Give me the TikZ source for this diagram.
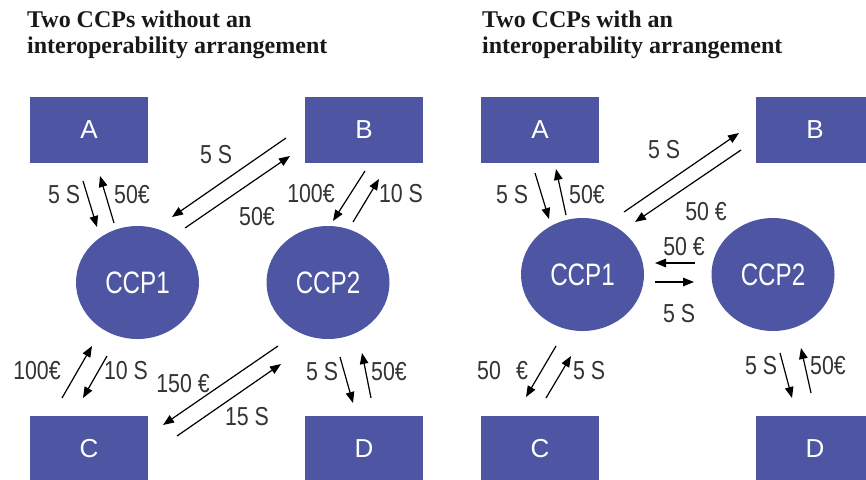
\documentclass[tikz,border=0pt]{standalone}
\usepackage{fontspec}
\setmainfont{Liberation Serif}
\newfontfamily\labfont{Liberation Sans}[FakeStretch=0.82]
\newfontfamily\ccpfont{Liberation Sans}[FakeStretch=0.78]
\newfontfamily\boxfont{Liberation Sans}
\usetikzlibrary{arrows.meta,shapes.geometric}
\definecolor{boxblue}{HTML}{4E56A4}
\definecolor{labgray}{HTML}{333333}
\tikzset{
 party/.style={fill=boxblue, draw=none, minimum width=118pt, minimum height=66pt, inner sep=0pt, text=white, font=\boxfont\fontsize{26}{30}\selectfont},
 ccp/.style={ellipse, fill=boxblue, draw=none, minimum width=123pt, minimum height=113pt, inner sep=0pt, text=white, font=\ccpfont\fontsize{31}{34}\selectfont},
 flow/.style={draw=black, line width=1.2pt, -{Triangle[length=11pt,width=8.5pt]}},
 lab/.style={text=labgray, font=\labfont\fontsize{26}{30}\selectfont, inner sep=0pt},
 ttl/.style={anchor=base west, inner sep=0pt, font=\bfseries\fontsize{24}{26}\selectfont, text=black!90}
}
\begin{document}
\begin{tikzpicture}[x=1pt,y=-1pt]
\useasboundingbox (0,0) rectangle (866,479);
% titles
\node[ttl] (t1a) at (27,27) {Two CCPs without an};
\node[ttl] (t1b) at (27,53) {interoperability arrangement};
\node[ttl] (t2a) at (482,27) {Two CCPs with an};
\node[ttl] (t2b) at (482,53) {interoperability arrangement};
% ---------------- left panel
\node[party] (LA) at (89,130) {A};
\node[party] (LB) at (364,130) {B};
\node[party] (LC) at (89,449) {C};
\node[party] (LD) at (364,449) {D};
\node[ccp] (L1) at (137.5,282.5) {CCP1};
\node[ccp] (L2) at (328,282.5) {CCP2};
\coordinate (a1s) at (83,181); \coordinate (a1e) at (97,227);
\coordinate (a2s) at (114,223); \coordinate (a2e) at (100,176);
\coordinate (b1s) at (286,138); \coordinate (b1e) at (172,217);
\coordinate (b2s) at (185,228); \coordinate (b2e) at (290,156);
\coordinate (c1s) at (365,171); \coordinate (c1e) at (333,221);
\coordinate (c2s) at (353,222); \coordinate (c2e) at (379,179);
\coordinate (d1s) at (62,398); \coordinate (d1e) at (92,346);
\coordinate (d2s) at (107,356); \coordinate (d2e) at (83,398);
\coordinate (e1s) at (278,346); \coordinate (e1e) at (163,425);
\coordinate (e2s) at (177,436); \coordinate (e2e) at (281,364);
\coordinate (f1s) at (340,357); \coordinate (f1e) at (353,403);
\coordinate (f2s) at (371,398); \coordinate (f2e) at (362,353);
\foreach \p in {a1,a2,b1,b2,c1,c2,d1,d2,e1,e2,f1,f2} \draw[flow] (\p s) -- (\p e);
\node[lab] (la1) at (64,195) {5 S};
\node[lab] (la2) at (132,195) {50€};
\node[lab] (lb1) at (216,155) {5 S};
\node[lab] (lb2) at (257,217) {50€};
\node[lab] (lc1) at (311,194) {100€};
\node[lab] (lc2) at (401,194) {10 S};
\node[lab] (ld1) at (37,371) {100€};
\node[lab] (ld2) at (126,371) {10 S};
\node[lab] (le1) at (183,384) {150 €};
\node[lab] (le2) at (247,417) {15 S};
\node[lab] (lf1) at (322,372) {5 S};
\node[lab] (lf2) at (389,372) {50€};
% ---------------- right panel
\node[party] (RA) at (540,130) {A};
\node[party] (RB) at (815,130) {B};
\node[party] (RC) at (540,449) {C};
\node[party] (RD) at (815,449) {D};
\node[ccp] (R1) at (582.5,274.5) {CCP1};
\node[ccp] (R2) at (773,274.5) {CCP2};
\coordinate (g1s) at (535,173); \coordinate (g1e) at (549,219);
\coordinate (g2s) at (566,215); \coordinate (g2e) at (556,169);
\coordinate (h1s) at (624,212); \coordinate (h1e) at (739,133);
\coordinate (h2s) at (741,150); \coordinate (h2e) at (635,222);
\coordinate (i1s) at (695,263); \coordinate (i1e) at (655,263);
\coordinate (i2s) at (655,282); \coordinate (i2e) at (694,282);
\coordinate (j1s) at (556,346); \coordinate (j1e) at (526,397);
\coordinate (j2s) at (546,398); \coordinate (j2e) at (571,356);
\coordinate (k1s) at (780,353); \coordinate (k1e) at (792,398);
\coordinate (k2s) at (811,393); \coordinate (k2e) at (801,348);
\foreach \p in {g1,g2,h1,h2,i1,i2,j1,j2,k1,k2} \draw[flow] (\p s) -- (\p e);
\node[lab] (rg1) at (512,195) {5 S};
\node[lab] (rg2) at (587,195) {50€};
\node[lab] (rh1) at (664,150) {5 S};
\node[lab] (rh2) at (706,212) {50 €};
\node[lab] (ri1) at (684,247) {50 €};
\node[lab] (ri2) at (679,314) {5 S};
\node[lab] (rj1a) at (489,371) {50};
\node[lab] (rj1b) at (522,371) {€};
\node[lab] (rj2) at (589,371) {5 S};
\node[lab] (rk1) at (761,366) {5 S};
\node[lab] (rk2) at (828,366) {50€};
\end{tikzpicture}
\end{document}
